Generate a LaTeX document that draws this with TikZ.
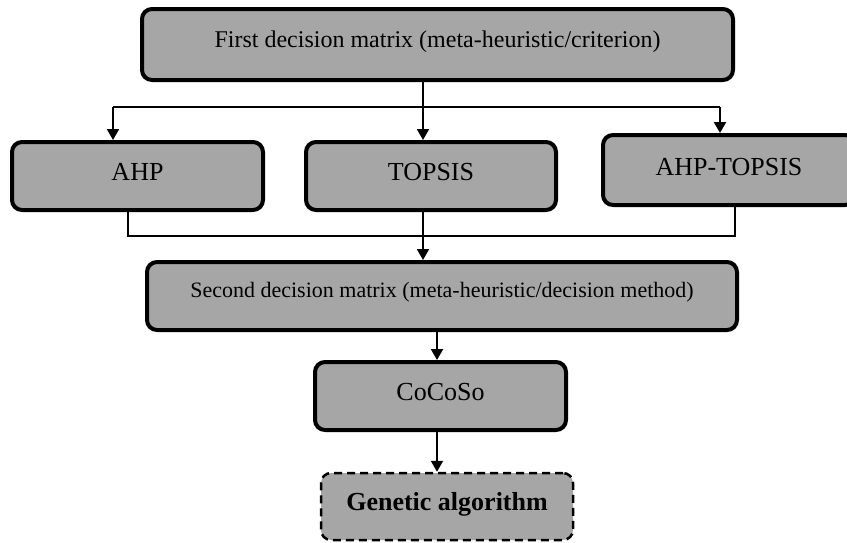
\documentclass[tikz,border=0pt]{standalone}
\usepackage{fontspec}
\setmainfont{Liberation Serif}
\usetikzlibrary{arrows.meta}
\definecolor{boxgray}{RGB}{166,166,166}
\begin{document}
\begin{tikzpicture}[x=1pt,y=-1pt,
  box/.style={draw=black, line width=4pt, fill=boxgray, rounded corners=10pt,
    inner sep=0pt, text depth=0pt, font=\fontsize{26}{30}\selectfont},
  gabox/.style={box, line width=2.5pt, dash pattern=on 8pt off 5pt},
  th/.style={text height=#1},
  arr/.style={line width=2pt, -{Triangle[width=12pt,length=11pt]}},
  bus/.style={line width=1.5pt}]
\clip (0,0) rectangle (847,542);
\fill[white] (0,0) rectangle (847,542);

\node[box, th=5pt, minimum width=591pt, minimum height=71pt,
  font=\fontsize{24}{28}\selectfont] (first) at (437.5,44.5)
  {First decision matrix (meta-heuristic/criterion)};
\node[box, th=8pt, minimum width=251pt, minimum height=68pt] (ahp) at (137.5,176) {AHP};
\node[box, th=8pt, minimum width=250pt, minimum height=68pt] (topsis) at (431,176) {TOPSIS};
\node[box, th=10pt, minimum width=252pt, minimum height=70pt] (ahpt) at (729,170) {AHP-TOPSIS};
\node[box, th=2pt, minimum width=590pt, minimum height=68pt,
  font=\fontsize{22}{26}\selectfont] (second) at (442,296)
  {Second decision matrix (meta-heuristic/decision method)};
\node[box, th=8pt, minimum width=251pt, minimum height=68pt] (cocoso) at (440.5,396) {CoCoSo};
\node[gabox, th=7pt, minimum width=252pt, minimum height=67pt,
  font=\fontsize{26}{30}\selectfont\bfseries] (ga) at (447,506.5) {Genetic algorithm};

\coordinate (jt) at (423,107);
\coordinate (jl) at (113,107);
\coordinate (jr) at (720,107);
\coordinate (bl) at (128,236);
\coordinate (br) at (735,236);
\coordinate (jc) at (437,0);

\draw[bus] (jl) -- (jr);
\draw[arr] (first.south -| jt) -- (topsis.north -| jt);
\draw[arr] (jl) -- (ahp.north -| jl);
\draw[arr] (jr) -- (ahpt.north -| jr);
\draw[bus] (ahp.south -| bl) -- (bl) -- (br) -- (ahpt.south -| br);
\draw[arr] (topsis.south -| jt) -- (second.north -| jt);
\draw[arr] (second.south -| jc) -- (cocoso.north -| jc);
\draw[arr] (cocoso.south -| jc) -- (ga.north -| jc);
\end{tikzpicture}
\end{document}
